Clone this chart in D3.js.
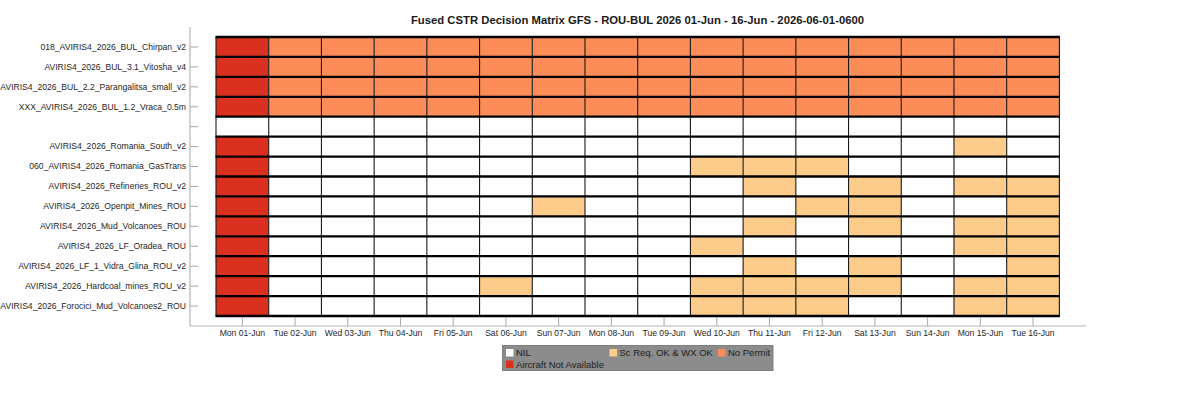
<!DOCTYPE html>
<html>
<head>
<meta charset="utf-8">
<script src="https://cdn.jsdelivr.net/npm/d3@7"></script>
<style>
  html, body { margin: 0; background: #fff; }
  svg { display: block; font-family: "Liberation Sans", Arial, sans-serif; }
  .tick text { font-size: 8.6px; fill: #262626; }
  .tick line { stroke: #a8a8a8; stroke-width: 1; }
</style>
</head>
<body>
<svg id="chart" width="1200" height="411"></svg>
<script>
const titleText = "Fused CSTR Decision Matrix GFS - ROU-BUL 2026 01-Jun - 16-Jun - 2026-06-01-0600";

const days = [
  "Mon 01-Jun", "Tue 02-Jun", "Wed 03-Jun", "Thu 04-Jun", "Fri 05-Jun", "Sat 06-Jun", "Sun 07-Jun", "Mon 08-Jun",
  "Tue 09-Jun", "Wed 10-Jun", "Thu 11-Jun", "Fri 12-Jun", "Sat 13-Jun", "Sun 14-Jun", "Mon 15-Jun", "Tue 16-Jun"
];

const targets = [
  "018_AVIRIS4_2026_BUL_Chirpan_v2",
  "AVIRIS4_2026_BUL_3.1_Vitosha_v4",
  "AVIRIS4_2026_BUL_2.2_Parangalitsa_small_v2",
  "XXX_AVIRIS4_2026_BUL_1.2_Vraca_0.5m",
  " ",
  "AVIRIS4_2026_Romania_South_v2",
  "060_AVIRIS4_2026_Romania_GasTrans",
  "AVIRIS4_2026_Refineries_ROU_v2",
  "AVIRIS4_2026_Openpit_Mines_ROU",
  "AVIRIS4_2026_Mud_Volcanoes_ROU",
  "AVIRIS4_2026_LF_Oradea_ROU",
  "AVIRIS4_2026_LF_1_Vidra_Glina_ROU_v2",
  "AVIRIS4_2026_Hardcoal_mines_ROU_v2",
  "AVIRIS4_2026_Forocici_Mud_Volcanoes2_ROU"
];

const states = ["NIL", "Sc Req. OK & WX OK", "No Permit", "Aircraft Not Available"];
const stateColors = ["#ffffff", "#fdcc8a", "#fc8d59", "#d9301f"];

// one row per target, one digit per day, digit = index in states
const decisions = [
  "3222222222222222",
  "3222222222222222",
  "3222222222222222",
  "3222222222222222",
  "0000000000000000",
  "3000000000000010",
  "3000000001110000",
  "3000000000101011",
  "3000001000011001",
  "3000000000101011",
  "3000000001000011",
  "3000000000101001",
  "3000010001111011",
  "3000000001110011"
];

const svg = d3.select("#chart");

const gridLeft = 216, gridRight = 1059.4, gridTop = 37, gridBottom = 316;
const spineX = 190, spineTop = 27, spineY = 326, spineRight = 1086;

const x = d3.scaleBand().domain(days).range([gridLeft, gridRight]);
const y = d3.scaleBand().domain(targets).range([gridTop, gridBottom]);
const color = d3.scaleOrdinal().domain(d3.range(states.length)).range(stateColors);

// ======== cells
const cells = decisions.flatMap((row, r) =>
  Array.from(row, (s, c) => ({ target: targets[r], day: days[c], state: +s }))
);

svg.append("g")
  .selectAll("rect")
  .data(cells)
  .join("rect")
  .attr("x", d => x(d.day))
  .attr("y", d => y(d.target))
  .attr("width", x.bandwidth())
  .attr("height", y.bandwidth())
  .attr("fill", d => color(d.state));

// ======== grid lines, the horizontal ones are much heavier
const xEdges = days.map(d => x(d)).concat(gridRight);
const yEdges = targets.map(d => y(d)).concat(gridBottom);

svg.append("g")
  .selectAll("line")
  .data(xEdges)
  .join("line")
  .attr("x1", d => d).attr("x2", d => d)
  .attr("y1", gridTop).attr("y2", gridBottom)
  .attr("stroke", "#1a1a1a")
  .attr("stroke-width", 1.1);

svg.append("g")
  .selectAll("line")
  .data(yEdges)
  .join("line")
  .attr("x1", gridLeft - 0.5).attr("x2", gridRight + 0.5)
  .attr("y1", d => d).attr("y2", d => d)
  .attr("stroke", "#000")
  .attr("stroke-width", 2.3);

// ======== axes
const xAxis = svg.append("g")
  .attr("transform", `translate(0,${spineY})`)
  .call(d3.axisBottom(x).tickSize(-9).tickSizeOuter(0).tickPadding(4));
xAxis.select(".domain").remove();

const yAxis = svg.append("g")
  .attr("transform", `translate(${spineX},0)`)
  .call(d3.axisLeft(y).tickSize(-8).tickSizeOuter(0).tickPadding(4));
yAxis.select(".domain").remove();

svg.append("path")
  .attr("d", d3.line()([[spineX, spineTop], [spineX, spineY], [spineRight, spineY]]))
  .attr("fill", "none")
  .attr("stroke", "#b4b4b4")
  .attr("stroke-width", 1.2);

// ======== title
svg.append("text")
  .attr("x", 637.5)
  .attr("y", 23.5)
  .attr("text-anchor", "middle")
  .attr("font-size", 11.3)
  .attr("font-weight", "bold")
  .attr("fill", "#1a1a1a")
  .text(titleText);

// ======== legend
const legendX = d3.scaleOrdinal().domain(states).range([506, 609.5, 718, 506]);
const legendY = d3.scaleOrdinal().domain(states).range([349, 349, 349, 360.5]);

const legend = svg.append("g");

legend.append("rect")
  .attr("x", 502.5)
  .attr("y", 345.5)
  .attr("width", 270.5)
  .attr("height", 25)
  .attr("fill", "#8c8c8c")
  .attr("stroke", "#6e6e6e")
  .attr("stroke-width", 0.8);

const legendItem = legend.selectAll("g")
  .data(states)
  .join("g")
  .attr("transform", d => `translate(${legendX(d)},${legendY(d)})`);

legendItem.append("rect")
  .attr("width", 7.5)
  .attr("height", 7.5)
  .attr("fill", (d, i) => color(i));

legendItem.append("text")
  .attr("x", 10)
  .attr("y", 7.3)
  .attr("font-size", 9.5)
  .attr("fill", "#1e1e1e")
  .text(d => d);
</script>
</body>
</html>
